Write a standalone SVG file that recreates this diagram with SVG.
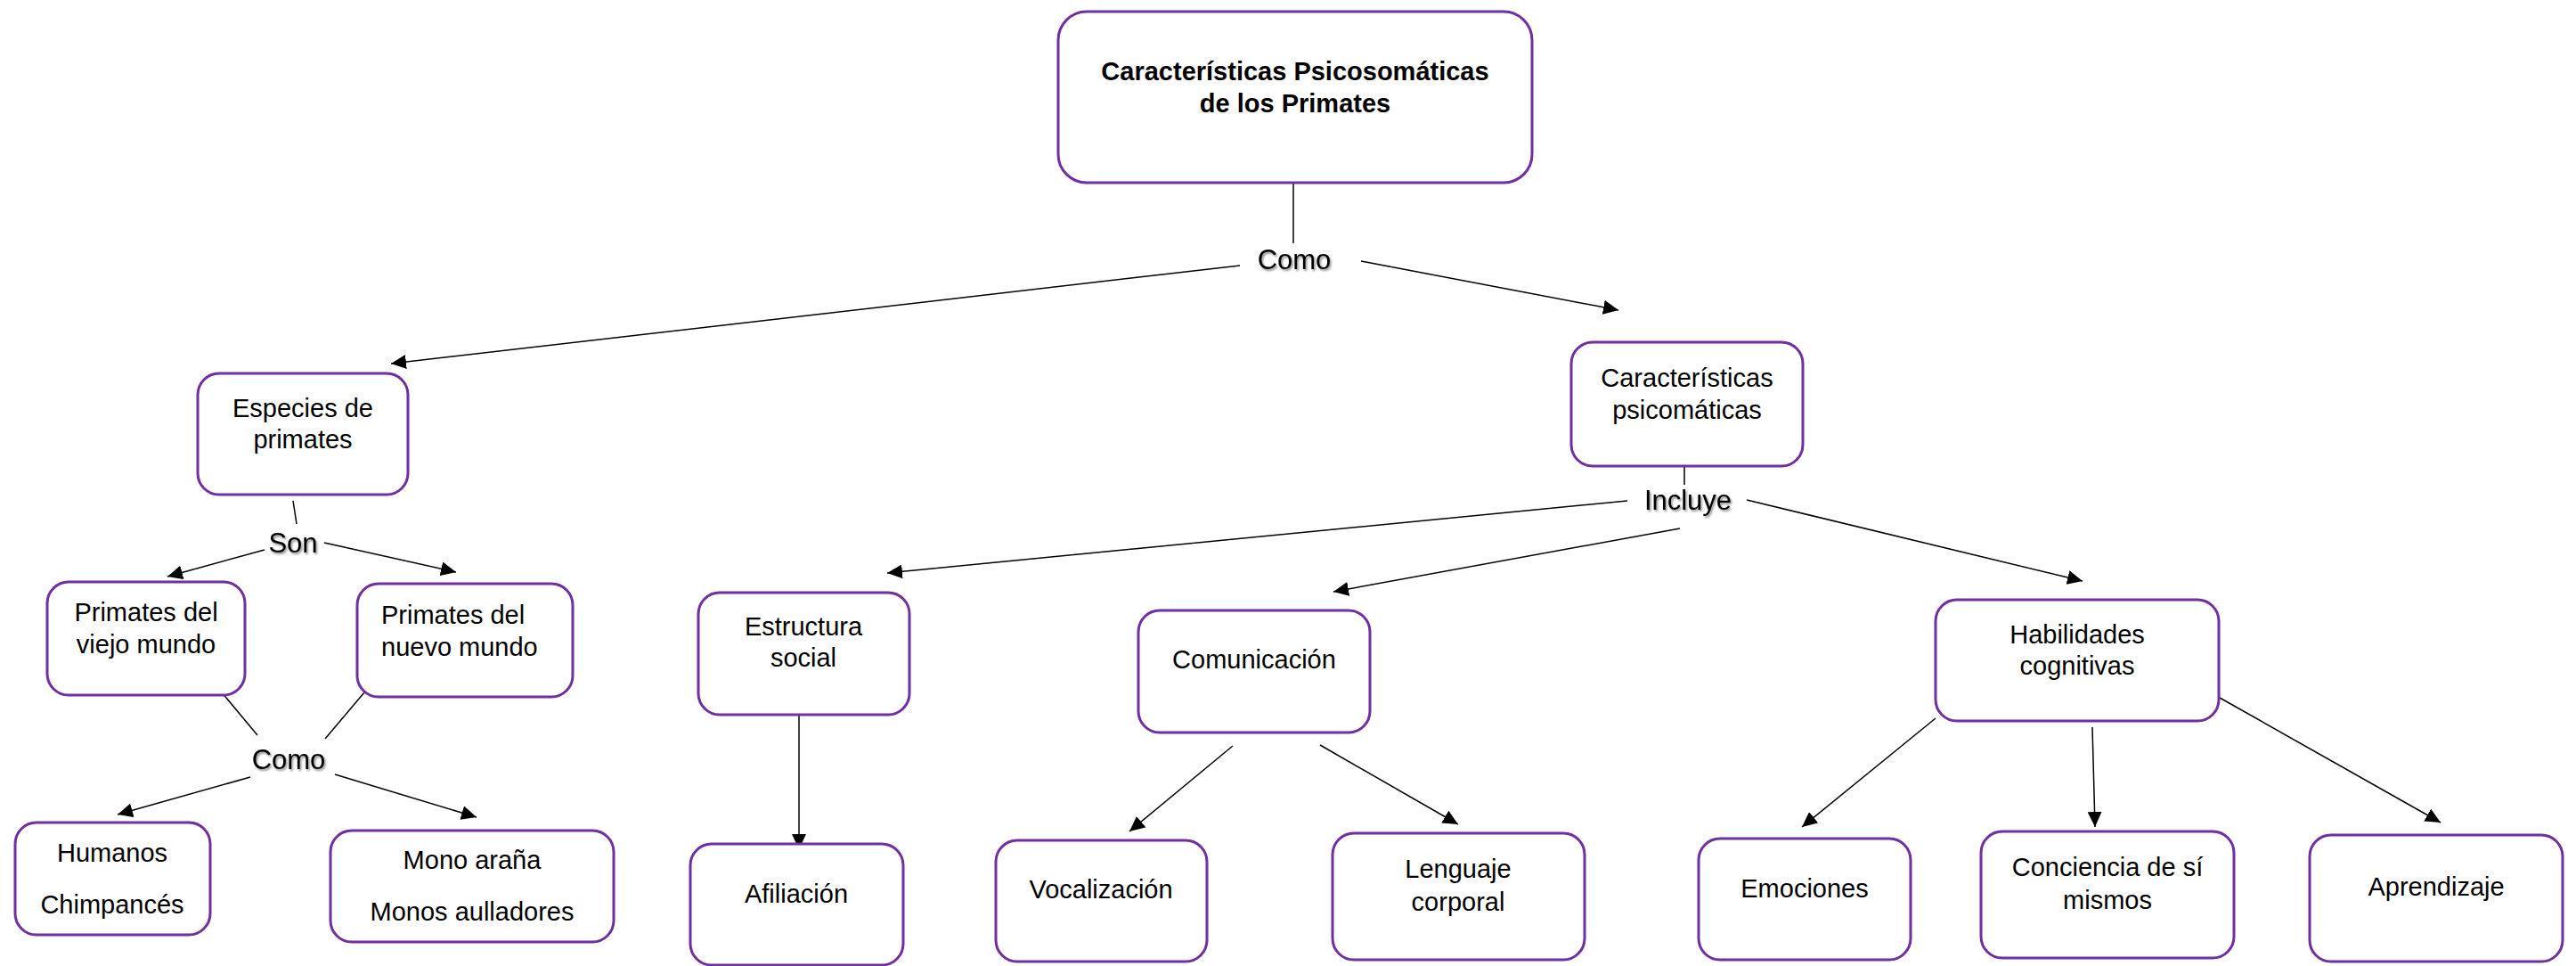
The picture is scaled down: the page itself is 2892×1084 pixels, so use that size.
<svg xmlns="http://www.w3.org/2000/svg" width="2892" height="1084" viewBox="0 0 2892 1084">
<defs>
<marker id="arr" markerUnits="userSpaceOnUse" markerWidth="18" markerHeight="16" refX="17" refY="8" orient="auto">
<path d="M0,0 L17,8 L0,16 z" fill="#000"/>
</marker>
<filter id="sh" x="-20%" y="-20%" width="140%" height="140%">
<feDropShadow dx="1.5" dy="2" stdDeviation="1.2" flood-color="#000" flood-opacity="0.45"/>
</filter>
</defs>
<style>
.n rect{fill:#fff;stroke:#7030a0;stroke-width:3}
.n text{font-family:"Liberation Sans",Arial,sans-serif;font-size:29px;fill:#000;text-anchor:middle}
.c line{stroke:#000;stroke-width:1.5}
.c line.a{marker-end:url(#arr)}
.lbl{font-family:"Liberation Sans",Arial,sans-serif;font-size:31px;fill:#000;text-anchor:middle;filter:url(#sh)}
</style>
<rect width="2892" height="1084" fill="#fff"/>
<g id="connectors" class="c">
<line x1="1452" y1="205" x2="1452" y2="273"/>
<line class="a" x1="1392" y1="298" x2="439" y2="408"/>
<line class="a" x1="1528" y1="293" x2="1817" y2="348"/>
<line x1="329" y1="562" x2="333" y2="588"/>
<line class="a" x1="297" y1="617" x2="188" y2="647"/>
<line class="a" x1="364" y1="609" x2="512" y2="642"/>
<line x1="249" y1="777" x2="289" y2="825"/>
<line x1="409" y1="777" x2="365" y2="829"/>
<line class="a" x1="281" y1="872" x2="132" y2="914"/>
<line class="a" x1="376" y1="869" x2="535" y2="917"/>
<line x1="1891" y1="523" x2="1891" y2="544"/>
<line class="a" x1="1827" y1="562" x2="996" y2="643"/>
<line class="a" x1="1886" y1="593" x2="1497" y2="664"/>
<line class="a" x1="1961" y1="561" x2="2338" y2="652"/>
<line class="a" x1="897" y1="803" x2="897" y2="953"/>
<line class="a" x1="1384" y1="837" x2="1268" y2="933"/>
<line class="a" x1="1482" y1="836" x2="1637" y2="925"/>
<line class="a" x1="2173" y1="806" x2="2023" y2="928"/>
<line class="a" x1="2349" y1="816" x2="2352" y2="928"/>
<line class="a" x1="2492" y1="783" x2="2740" y2="923"/>
</g>
<g id="labels">
<text class="lbl" x="1453" y="302">Como</text>
<text class="lbl" x="329" y="620">Son</text>
<text class="lbl" x="324" y="863">Como</text>
<text class="lbl" x="1895" y="572">Incluye</text>
</g>
<g id="n-root" class="n">
<rect x="1188" y="13" width="532" height="192" rx="32"/>
<text x="1454" y="90" font-weight="bold">Características Psicosomáticas</text>
<text x="1454" y="126" font-weight="bold">de los Primates</text>
</g>
<g id="n-especies" class="n">
<rect x="222" y="419" width="236" height="136" rx="24"/>
<text x="340" y="468">Especies de</text>
<text x="340" y="503">primates</text>
</g>
<g id="n-viejo" class="n">
<rect x="53" y="653" width="222" height="127" rx="24"/>
<text x="164" y="697">Primates del</text>
<text x="164" y="733">viejo mundo</text>
</g>
<g id="n-nuevo" class="n">
<rect x="401" y="655" width="242" height="127" rx="24"/>
<text x="428" y="700" style="text-anchor:start">Primates del</text>
<text x="428" y="736" style="text-anchor:start">nuevo mundo</text>
</g>
<g id="n-humanos" class="n">
<rect x="17" y="923" width="219" height="126" rx="24"/>
<text x="126" y="967">Humanos</text>
<text x="126" y="1025">Chimpancés</text>
</g>
<g id="n-mono" class="n">
<rect x="371" y="932" width="318" height="125" rx="24"/>
<text x="530" y="975">Mono araña</text>
<text x="530" y="1033">Monos aulladores</text>
</g>
<g id="n-psico" class="n">
<rect x="1764" y="384" width="260" height="139" rx="24"/>
<text x="1894" y="434">Características</text>
<text x="1894" y="470">psicomáticas</text>
</g>
<g id="n-estructura" class="n">
<rect x="784" y="665" width="237" height="137" rx="24"/>
<text x="902" y="713">Estructura</text>
<text x="902" y="748">social</text>
</g>
<g id="n-afiliacion" class="n">
<rect x="775" y="947" width="239" height="136" rx="24"/>
<text x="894" y="1013">Afiliación</text>
</g>
<g id="n-comunicacion" class="n">
<rect x="1278" y="685" width="260" height="137" rx="24"/>
<text x="1408" y="750">Comunicación</text>
</g>
<g id="n-vocalizacion" class="n">
<rect x="1118" y="943" width="237" height="136" rx="24"/>
<text x="1236" y="1008">Vocalización</text>
</g>
<g id="n-lenguaje" class="n">
<rect x="1496" y="935" width="283" height="142" rx="24"/>
<text x="1637" y="985">Lenguaje</text>
<text x="1637" y="1022">corporal</text>
</g>
<g id="n-habilidades" class="n">
<rect x="2173" y="673" width="318" height="136" rx="24"/>
<text x="2332" y="722">Habilidades</text>
<text x="2332" y="757">cognitivas</text>
</g>
<g id="n-emociones" class="n">
<rect x="1907" y="941" width="238" height="136" rx="24"/>
<text x="2026" y="1007">Emociones</text>
</g>
<g id="n-conciencia" class="n">
<rect x="2224" y="933" width="284" height="142" rx="24"/>
<text x="2366" y="983">Conciencia de sí</text>
<text x="2366" y="1020">mismos</text>
</g>
<g id="n-aprendizaje" class="n">
<rect x="2593" y="937" width="284" height="142" rx="24"/>
<text x="2735" y="1005">Aprendizaje</text>
</g>
</svg>
